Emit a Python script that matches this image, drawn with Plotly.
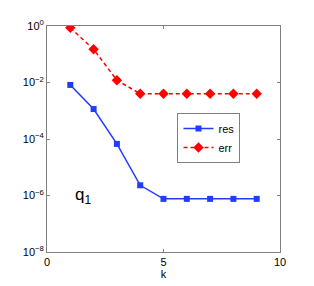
import plotly.graph_objects as go

k = [1, 2, 3, 4, 5, 6, 7, 8, 9]
res = [8.2e-3, 1.15e-3, 6.7e-5, 2.3e-6, 7.6e-7, 7.6e-7, 7.6e-7, 7.6e-7, 7.6e-7]
err = [0.87, 0.15, 0.012, 4.0e-3, 4.0e-3, 4.0e-3, 4.0e-3, 4.0e-3, 4.0e-3]
ytick_vals = [1, 1e-2, 1e-4, 1e-6, 1e-8]
ytick_text = ["10<sup>0</sup>", "10<sup>−2</sup>", "10<sup>−4</sup>", "10<sup>−6</sup>", "10<sup>−8</sup>"]
xtick_vals = [0, 5, 10]

BLUE = "#1f3cff"
RED = "#ff0000"

fig = go.Figure()
fig.add_trace(go.Scatter(x=k, y=res, name="res", mode="lines+markers",
                         line=dict(color=BLUE, width=1.5),
                         marker=dict(symbol="square", size=6, color=BLUE)))
fig.add_trace(go.Scatter(x=k, y=err, name="err", mode="lines+markers",
                         line=dict(color=RED, width=1.5, dash="4px,3px"),
                         marker=dict(symbol="diamond", size=8, color=RED)))

axis_common = dict(showline=True, linecolor="#808080", linewidth=1, mirror="ticks",
                   ticks="inside", ticklen=3, tickcolor="#808080", showgrid=False,
                   zeroline=False, tickfont=dict(family="Liberation Sans", size=11, color="#000"))
fig.update_xaxes(range=[0, 10], tickvals=xtick_vals, ticktext=[str(v) for v in xtick_vals],
                 title=dict(text="k", standoff=0, font=dict(family="Liberation Sans", size=11, color="#000")),
                 **axis_common)
fig.update_yaxes(type="log", range=[-8, 0], tickvals=ytick_vals, ticktext=ytick_text, **axis_common)

fig.add_annotation(x=1.1, y=-6.0, xref="x", yref="y", text="q<sub>1</sub>", showarrow=False,
                   xanchor="left", yanchor="middle",
                   font=dict(family="Liberation Sans", size=17, color="#000"))

# page body adds an ~8px offset; margins compensate
fig.update_layout(
    width=314, height=286,
    margin=dict(l=39, r=42, t=10, b=42),
    paper_bgcolor="white", plot_bgcolor="white",
    showlegend=True,
    legend=dict(x=0.56, y=0.615, xanchor="left", yanchor="top",
                bgcolor="white", bordercolor="#808080", borderwidth=1,
                font=dict(family="Liberation Sans", size=11, color="#000"),
                tracegroupgap=0, itemwidth=30),
)
fig.write_html("out.html")
